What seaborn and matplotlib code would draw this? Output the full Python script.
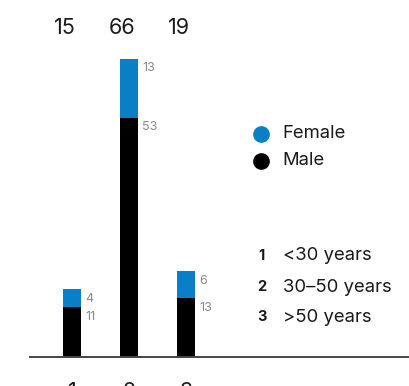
import matplotlib
matplotlib.use("Agg")
import matplotlib.pyplot as plt
from matplotlib.lines import Line2D
import seaborn as sns
import pandas as pd

# Headcount by age group, split by gender
age_groups = ["1", "2", "3"]
age_names = ["<30 years", "30\u201350 years", ">50 years"]
male = [11, 53, 13]
female = [4, 13, 6]
totals = [m + f for m, f in zip(male, female)]

BLUE = "#0A7FC6"
BLACK = "#000000"
GREY = "#8a8a8a"
TEXT = "#1a1a1a"

sns.set_theme(style="white")
plt.rcParams["font.family"] = ["Inter", "DejaVu Sans"]

W, H = 410, 386
fig = plt.figure(figsize=(W / 100, H / 100), dpi=100)

# axes in pixel geometry: baseline 357 px from top, left edge 30 px
ax = fig.add_axes([30 / W, (H - 357) / H, 380 / W, 357 / H])

df = pd.DataFrame({"age": age_groups, "male": male, "female": female, "total": totals})

bar_w = 18 / 57
sns.barplot(data=df, x="age", y="total", color=BLUE, width=bar_w, ax=ax,
            saturation=1, linewidth=0)
sns.barplot(data=df, x="age", y="male", color=BLACK, width=bar_w, ax=ax,
            saturation=1, linewidth=0)

ax.set_xlim(-42 / 57, 338 / 57)
ax.set_ylim(0, 357 / 4.515)

for i, (m, f, t) in enumerate(zip(male, female, totals)):
    # segment value labels to the right of each bar
    ax.annotate(str(f), (i + bar_w / 2, t), xytext=(3, -2.5), textcoords="offset points",
                ha="left", va="top", fontsize=9, color=GREY)
    ax.annotate(str(m), (i + bar_w / 2, m), xytext=(3, -2.5), textcoords="offset points",
                ha="left", va="top", fontsize=9, color=GREY)

# totals across the top
for i, t in enumerate(totals):
    x_fig = (72 + 57 * i - 7) / W
    fig.text(x_fig, 1 - 28 / H, str(t), ha="center", va="center", fontsize=15.5, color=TEXT)

ax.set_xticks([0, 1, 2])
ax.set_xticklabels(age_groups, fontsize=15.5, color=TEXT)
ax.tick_params(axis="x", length=0, pad=18)
ax.set_yticks([])
ax.set_xlabel("")
ax.set_ylabel("")
for s in ["top", "right", "left"]:
    ax.spines[s].set_visible(False)
ax.spines["bottom"].set_color("#444444")
ax.spines["bottom"].set_linewidth(1.4)

# gender legend
for label, col, y in [("Female", BLUE, 134), ("Male", BLACK, 161)]:
    fig.add_artist(Line2D([261.5 / W], [1 - y / H], marker="o", markersize=11,
                          color=col, linestyle="none", transform=fig.transFigure))
    fig.text(282 / W, 1 - y / H, label, ha="left", va="center", fontsize=13.3, color=TEXT)

# age group key
for num, name, y in zip(age_groups, age_names, [256, 287, 317]):
    fig.text(261.5 / W, 1 - y / H, num, ha="center", va="center", fontsize=10.5,
             fontweight="bold", color=TEXT)
    fig.text(283 / W, 1 - y / H, name, ha="left", va="center", fontsize=13.3, color=TEXT)

fig.savefig("out.png", dpi=100)
